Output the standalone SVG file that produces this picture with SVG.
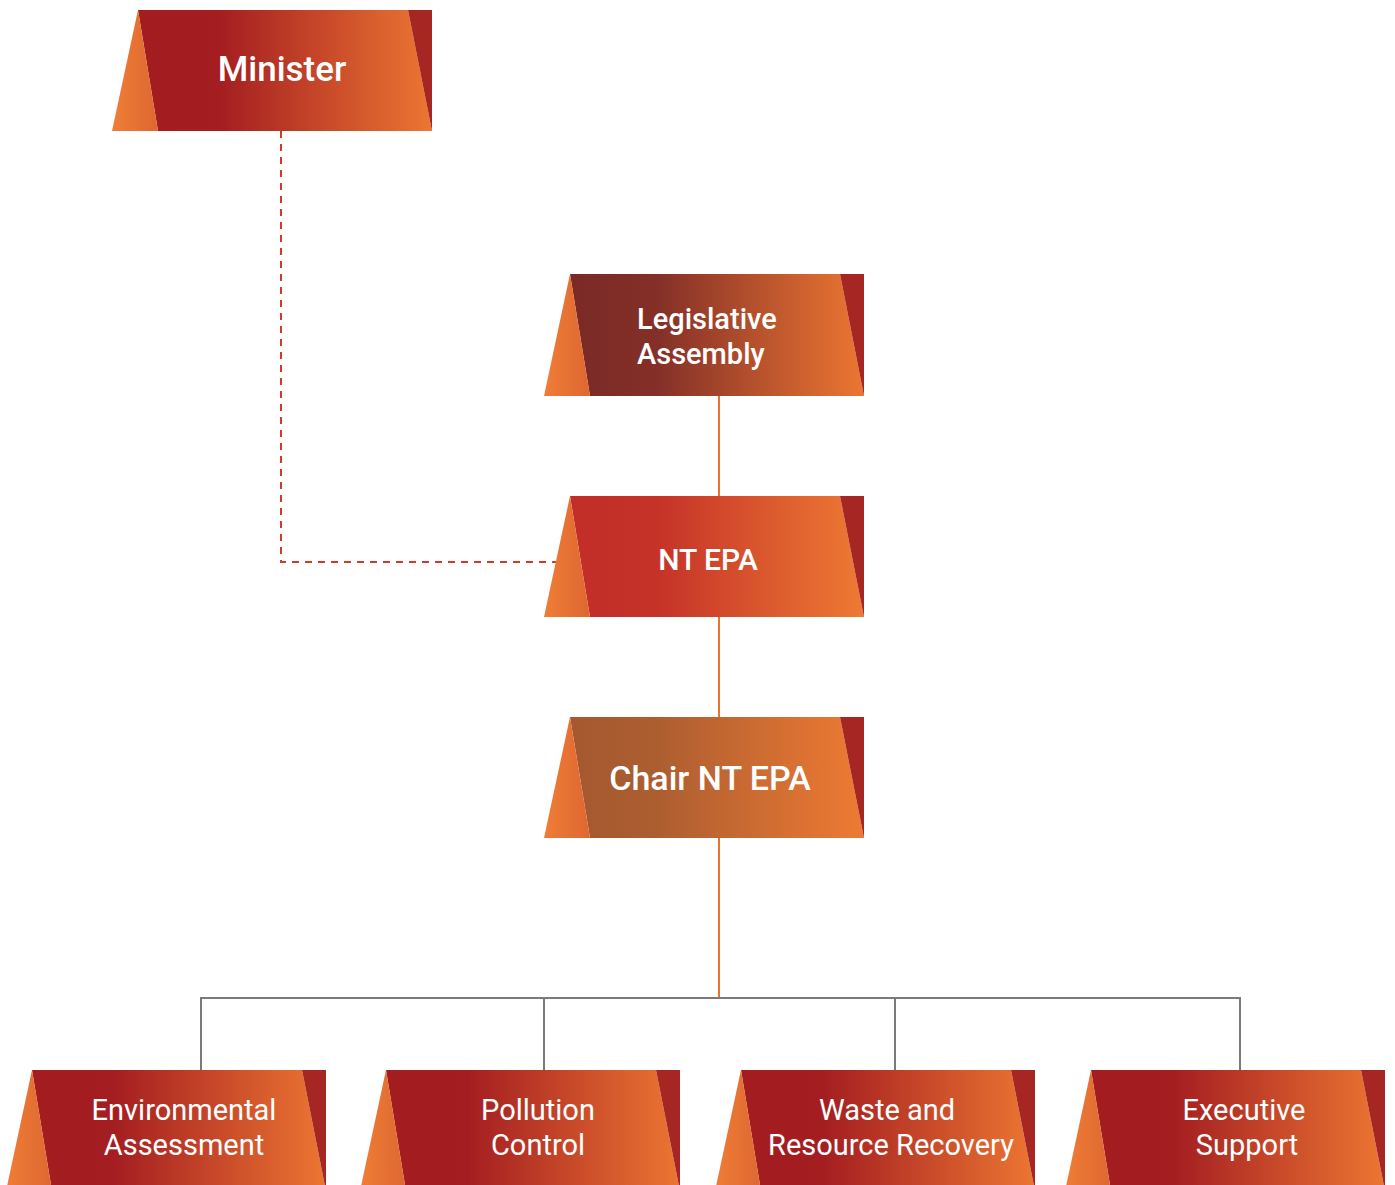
<svg xmlns="http://www.w3.org/2000/svg" width="1395" height="1185" viewBox="0 0 1395 1185">
<defs>
<linearGradient id="gL" x1="0" y1="0" x2="1" y2="0"><stop offset="0" stop-color="#EF7D36"/><stop offset="1" stop-color="#DE6731"/></linearGradient>
<linearGradient id="gRed" x1="0" y1="0" x2="1" y2="0"><stop offset="0" stop-color="#A31C20"/><stop offset="0.28" stop-color="#A41E21"/><stop offset="1" stop-color="#EC7632"/></linearGradient>
<linearGradient id="gLeg" x1="0" y1="0" x2="1" y2="0"><stop offset="0" stop-color="#7A2926"/><stop offset="0.3" stop-color="#843028"/><stop offset="1" stop-color="#EC7632"/></linearGradient>
<linearGradient id="gEpa" x1="0" y1="0" x2="1" y2="0"><stop offset="0" stop-color="#C22D29"/><stop offset="0.3" stop-color="#C53328"/><stop offset="1" stop-color="#EE7A33"/></linearGradient>
<linearGradient id="gChair" x1="0" y1="0" x2="1" y2="0"><stop offset="0" stop-color="#A5582F"/><stop offset="0.3" stop-color="#AD5E31"/><stop offset="1" stop-color="#EE7A33"/></linearGradient>
</defs>
<style>
.lt{fill:url(#gL)}
.rt{fill:#A52622}
.t{fill:#fff;font-family:Roboto,"Liberation Sans",sans-serif;text-anchor:middle}
.tm{font-weight:500}
.st{text-anchor:start}
.c-or{stroke:#E8732F;stroke-width:2;fill:none}
.c-gr{stroke:#7A7A7A;stroke-width:2;fill:none}
.c-da{stroke:#D23A2C;stroke-width:2;fill:none;stroke-dasharray:7 6}
</style>
<g id="connectors">
<path class="c-da" d="M281,131 V562 H556"/>
<path class="c-or" d="M719,396 V496 M719,617 V717 M719,838 V998"/>
<path class="c-gr" d="M201,1070 V998 H1240 V1070 M544,998 V1070 M895,998 V1070"/>
</g>
<g id="minister" transform="translate(112,10)">
<path d="M26,0 H296 L320,121 H46 Z" fill="url(#gRed)"/>
<path class="lt" d="M26,0 L46,121 H0 Z"/>
<path class="rt" d="M296,0 H320 V121 Z"/>
<text class="t tm" x="170" y="71" font-size="35">Minister</text>
</g>
<g id="legislative-assembly" transform="translate(544,274)">
<path d="M26,0 H296 L320,122 H46 Z" fill="url(#gLeg)"/>
<path class="lt" d="M26,0 L46,122 H0 Z"/>
<path class="rt" d="M296,0 H320 V122 Z"/>
<text class="t tm st" x="93" y="55" font-size="29">Legislative</text>
<text class="t tm st" x="93" y="90" font-size="29">Assembly</text>
</g>
<g id="nt-epa" transform="translate(544,496)">
<path d="M26,0 H296 L320,121 H46 Z" fill="url(#gEpa)"/>
<path class="lt" d="M26,0 L46,121 H0 Z"/>
<path class="rt" d="M296,0 H320 V121 Z"/>
<text class="t tm" x="164" y="74" font-size="30">NT EPA</text>
</g>
<g id="chair-nt-epa" transform="translate(544,717)">
<path d="M26,0 H296 L320,121 H46 Z" fill="url(#gChair)"/>
<path class="lt" d="M26,0 L46,121 H0 Z"/>
<path class="rt" d="M296,0 H320 V121 Z"/>
<text class="t tm" x="166" y="73" font-size="34">Chair NT EPA</text>
</g>
<g id="environmental-assessment" transform="translate(6,1070)">
<path d="M26,0 H296 L320,121 H46 Z" fill="url(#gRed)"/>
<path class="lt" d="M26,0 L46,121 H0 Z"/>
<path class="rt" d="M296,0 H320 V121 Z"/>
<text class="t" x="178" y="50" font-size="29">Environmental</text>
<text class="t" x="178" y="85" font-size="29">Assessment</text>
</g>
<g id="pollution-control" transform="translate(360,1070)">
<path d="M26,0 H296 L320,121 H46 Z" fill="url(#gRed)"/>
<path class="lt" d="M26,0 L46,121 H0 Z"/>
<path class="rt" d="M296,0 H320 V121 Z"/>
<text class="t" x="178" y="50" font-size="29">Pollution</text>
<text class="t" x="178" y="85" font-size="29">Control</text>
</g>
<g id="waste-resource-recovery" transform="translate(715,1070)">
<path d="M26,0 H296 L320,121 H46 Z" fill="url(#gRed)"/>
<path class="lt" d="M26,0 L46,121 H0 Z"/>
<path class="rt" d="M296,0 H320 V121 Z"/>
<text class="t" x="172" y="50" font-size="29">Waste and</text>
<text class="t" x="176" y="85" font-size="29">Resource Recovery</text>
</g>
<g id="executive-support" transform="translate(1065,1070)">
<path d="M26,0 H296 L320,121 H46 Z" fill="url(#gRed)"/>
<path class="lt" d="M26,0 L46,121 H0 Z"/>
<path class="rt" d="M296,0 H320 V121 Z"/>
<text class="t" x="179" y="50" font-size="29">Executive</text>
<text class="t" x="182" y="85" font-size="29">Support</text>
</g>
</svg>
